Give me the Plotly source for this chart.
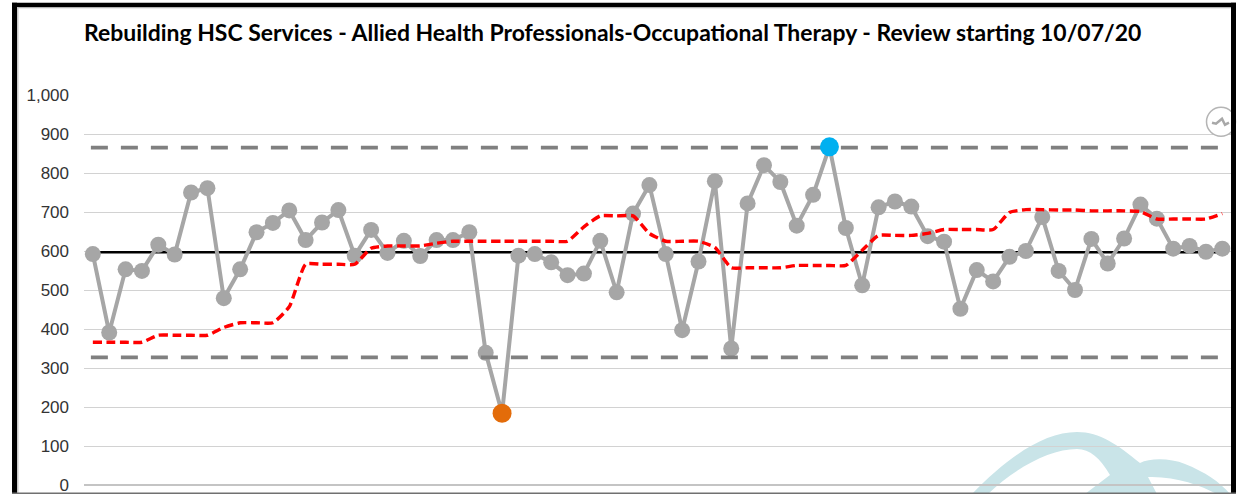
import plotly.graph_objects as go

TITLE = "Rebuilding HSC Services - Allied Health Professionals-Occupational Therapy - Review starting 10/07/20"

values = [592, 391, 553, 549, 616, 591, 750, 761, 479, 553, 648, 672, 704, 628, 673, 705, 588, 654, 595, 626,
          587, 628, 628, 648, 339, 184, 588, 592, 571, 538, 542, 626, 494, 696, 769, 592, 397, 573, 779, 350,
          722, 820, 777, 665, 744, 867, 659, 512, 712, 727, 714, 638, 624, 452, 551, 522, 585, 600, 687, 549,
          500, 631, 568, 632, 719, 683, 606, 613, 598, 606]
moving_avg = [366, 366, 366, 366, 384, 384, 384, 384, 404, 416, 416, 416, 457, 566, 566, 566, 566, 607, 613, 613,
              613, 620, 625, 625, 625, 625, 625, 625, 625, 625, 662, 690, 690, 690, 645, 625, 625, 625, 609, 557,
              557, 557, 557, 563, 563, 563, 563, 602, 640, 640, 640, 645, 655, 655, 655, 655, 699, 706, 706, 705,
              705, 703, 703, 703, 701, 682, 682, 682, 682, 696]
mean_value = 597
upper_limit = 865
lower_limit = 327
low_signal_index = 25
high_signal_index = 45
y_ticks = [0, 100, 200, 300, 400, 500, 600, 700, 800, 900, 1000]

W, H = 1238, 494
L, R, T, B = 84, 1231, 95.3, 485
idx = list(range(len(values)))
def px(x): return (x - L) / (R - L)
def py(y): return (B - y) / (B - T)

fig = go.Figure()
fig.add_trace(go.Scatter(x=[idx[0], idx[-1]], y=[mean_value] * 2, mode="lines",
                         line=dict(color="#000000", width=2.5)))
fig.add_trace(go.Scatter(x=idx, y=values, mode="lines+markers",
                         line=dict(color="#a6a6a6", width=4),
                         marker=dict(color="#a6a6a6", size=16)))
for lim in (upper_limit, lower_limit):
    fig.add_trace(go.Scatter(x=[idx[0] - 0.12, idx[-1]], y=[lim] * 2, mode="lines",
                             line=dict(color="#808080", width=3.8, dash="17px,13px")))
fig.add_trace(go.Scatter(x=idx, y=moving_avg, mode="lines",
                         line=dict(color="#ff0000", width=3.4, dash="9px,4.5px", shape="spline", smoothing=0.5)))
fig.add_trace(go.Scatter(x=[low_signal_index], y=[values[low_signal_index]], mode="markers",
                         marker=dict(color="#e36c0a", size=19)))
fig.add_trace(go.Scatter(x=[high_signal_index], y=[values[high_signal_index]], mode="markers",
                         marker=dict(color="#00b0f0", size=19)))

def rect(x0, y0, x1, y1, color, layer="above"):
    return dict(type="rect", xref="paper", yref="paper", x0=px(x0), x1=px(x1), y0=py(y0), y1=py(y1),
                fillcolor=color, line=dict(width=0), layer=layer)

def path(points):
    out = []
    for tok in points:
        if isinstance(tok, str):
            out.append(tok)
        else:
            out.append(f"{px(tok[0]):.5f},{py(tok[1]):.5f}")
    return " ".join(out)

logo = path(["M", (972, 494), "C", (1010, 455), (1045, 432), (1077, 432), "C", (1100, 432), (1118, 445), (1140, 463),
             "C", (1150, 458), (1170, 458), (1185, 464), "C", (1205, 472), (1220, 482), (1230, 494),
             "L", (1217, 494), "C", (1200, 485), (1175, 476), (1148, 477), "L", (1157, 494), "L", (1085, 494),
             "L", (1110, 475), "C", (1100, 458), (1090, 449), (1077, 449), "C", (1050, 449), (1015, 468), (988, 494), "Z"])
spark = path(["M", (1212, 123), "L", (1216, 124), "L", (1222, 119), "L", (1225, 125), "L", (1229, 123)])

shapes = [
    dict(type="path", xref="paper", yref="paper", path=logo, fillcolor="#c9e4e8", line=dict(width=0), layer="below"),
    dict(type="circle", xref="paper", yref="paper", x0=px(1206.5), x1=px(1235.5), y0=py(107.5), y1=py(136.5),
         fillcolor="#ffffff", line=dict(color="#b5b5b5", width=1.5), layer="above"),
    dict(type="path", xref="paper", yref="paper", path=spark, line=dict(color="#a8a8a8", width=2.5), layer="above"),
    rect(12, 3, 1236, 7.5, "#000000"),
    rect(12, 3, 17, 494, "#000000"),
    rect(1231, 3, 1236, 494, "#000000"),
    rect(17, 7.5, 1231, 8.5, "#b0b0b0"),
    rect(17, 7.5, 18.5, 494, "#c8c8c8"),
    rect(12, 492.5, 1236, 494, "#707070"),
]

fig.update_layout(
    width=W, height=H, autosize=False,
    margin=dict(l=L, r=W - R, t=T, b=H - B, pad=0, autoexpand=False),
    paper_bgcolor="#ffffff", plot_bgcolor="rgba(0,0,0,0)",
    showlegend=False, shapes=shapes,
    title=dict(text=f"<b>{TITLE}</b>", x=84 / W, xanchor="left", xref="container",
               y=1 - 33 / H, yanchor="middle", yref="container",
               font=dict(family="Lato", size=22.95, color="#000000")),
    xaxis=dict(range=[-0.54, 69.53], showgrid=False, zeroline=False, showticklabels=False, ticks="",
               showline=False, fixedrange=True, automargin=False),
    yaxis=dict(range=[0, 1000], tickvals=y_ticks, tickformat=",d", showgrid=True, gridcolor="#d2d2d2", gridwidth=1.3,
               zeroline=True, zerolinecolor="#c4c4c4", zerolinewidth=2.2, showline=False, ticks="",
               ticklabelstandoff=14, ticklabeloverflow="allow", automargin=False,
               tickfont=dict(family="Liberation Sans", size=17, color="#333333"),
               fixedrange=True),
)
fig.write_html("out.html", config=dict(displayModeBar=False),
               post_script="document.body.style.margin='0';document.body.style.overflow='hidden';")
